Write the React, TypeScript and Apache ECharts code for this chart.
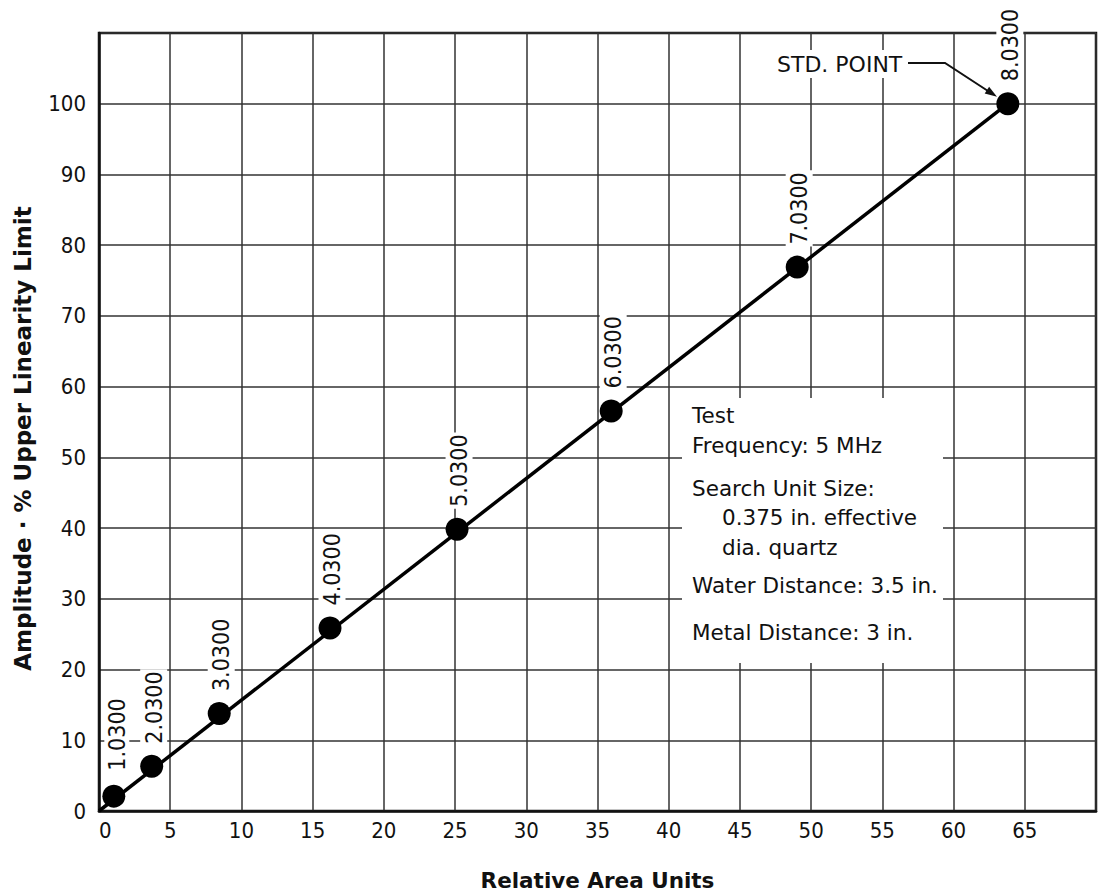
import React, { useEffect, useRef } from "react";
import * as echarts from "echarts";

const blockLabels = ["1.0300", "2.0300", "3.0300", "4.0300", "5.0300", "6.0300", "7.0300", "8.0300"];
const areaUnits = [1.04, 3.7, 8.44, 16.22, 25.14, 35.96, 49.02, 63.81];
const amplitude = [2.1, 6.33, 13.78, 25.87, 39.83, 56.56, 76.9, 100];
const fitLineX = [0, 63.81];
const fitLineY = [0, 100];
const xTickStep = 5;
const yTickStep = 10;
const xMax = 70;
const yMax = 110;

const noteLines = [
  { text: "Test", indent: false, y: 415 },
  { text: "Frequency: 5 MHz", indent: false, y: 445 },
  { text: "Search Unit Size:", indent: false, y: 488 },
  { text: "0.375 in. effective", indent: true, y: 517 },
  { text: "dia. quartz", indent: true, y: 547 },
  { text: "Water Distance: 3.5 in.", indent: false, y: 585 },
  { text: "Metal Distance: 3 in.", indent: false, y: 632 },
];

const FONT = "'DejaVu Sans Condensed', 'DejaVu Sans', sans-serif";
const FONT_WIDE = "'DejaVu Sans', sans-serif";

export default function App() {
  const ref = useRef<HTMLDivElement>(null);
  useEffect(() => {
    if (!ref.current) return;
    const chart = echarts.init(ref.current, null, { renderer: "svg" });
    const points = areaUnits.map((x, i) => {
      const item: any = { value: [x, amplitude[i]], name: blockLabels[i] };
      if (i === 0) item.label = { offset: [3, 3], padding: [0, 2, 2, 2] };
      return item;
    });
    const fit = fitLineX.map((x, i) => [x, fitLineY[i]]);
    const textColor = "#111";
    chart.setOption({
      animation: false,
      backgroundColor: "#fff",
      grid: {
        left: 99,
        right: 2,
        top: 33,
        bottom: 82,
        show: true,
        borderColor: "#111",
        borderWidth: 2.5,
        backgroundColor: "transparent",
      },
      xAxis: {
        type: "value",
        min: 0,
        max: xMax,
        interval: xTickStep,
        name: "Relative Area Units",
        nameLocation: "middle",
        nameGap: 58,
        nameTextStyle: { fontFamily: FONT_WIDE, fontSize: 21.5, fontWeight: "bold", color: textColor },
        axisLine: { show: true, lineStyle: { color: "#111", width: 2.5 } },
        axisTick: { show: false },
        axisLabel: {
          fontFamily: FONT,
          fontSize: 22,
          color: textColor,
          margin: 8,
          showMaxLabel: false,
          alignMinLabel: "left",
        },
        splitLine: { show: true, lineStyle: { color: "#333", width: 1.5 } },
      },
      yAxis: {
        type: "value",
        min: 0,
        max: yMax,
        interval: yTickStep,
        name: "Amplitude · % Upper Linearity Limit",
        nameLocation: "middle",
        nameGap: 65,
        nameTextStyle: {
          fontFamily: FONT_WIDE,
          fontSize: 23,
          fontWeight: "bold",
          color: textColor,
          padding: [0, 33, 0, 0],
        },
        axisLine: { show: true, lineStyle: { color: "#111", width: 2.5 } },
        axisTick: { show: false },
        axisLabel: {
          fontFamily: FONT,
          fontSize: 22,
          color: textColor,
          margin: 13,
          showMaxLabel: false,
        },
        splitLine: { show: true, lineStyle: { color: "#333", width: 1.5 } },
      },
      series: [
        {
          type: "line",
          data: fit,
          symbol: "none",
          lineStyle: { color: "#000", width: 3.5 },
          z: 2,
          silent: true,
        },
        {
          type: "scatter",
          data: points,
          symbol: "circle",
          symbolSize: 23,
          itemStyle: { color: "#000", opacity: 1 },
          emphasis: { disabled: true },
          z: 3,
          label: {
            show: true,
            formatter: (p: any) => p.name,
            position: "top",
            distance: 9,
            rotate: 90,
            align: "left",
            verticalAlign: "middle",
            offset: [0, 2],
            fontFamily: FONT,
            fontSize: 23,
            color: textColor,
            opacity: 1,
            backgroundColor: "#fff",
            padding: [2, 2, 2, 2],
          },
        },
      ],
      graphic: [
        {
          type: "rect",
          shape: { x: 682, y: 398, width: 261, height: 265 },
          style: { fill: "#fff" },
          z: 10,
        },
        ...noteLines.map((l) => ({
          type: "text",
          x: l.indent ? 722 : 692,
          y: l.y,
          z: 11,
          style: {
            text: l.text,
            fontFamily: FONT_WIDE,
            fontSize: 21.5,
            fill: textColor,
            textVerticalAlign: "middle",
          },
        })),
        {
          type: "rect",
          shape: { x: 772, y: 50, width: 136, height: 28 },
          style: { fill: "#fff" },
          z: 10,
        },
        {
          type: "text",
          x: 777,
          y: 64,
          z: 11,
          style: {
            text: "STD. POINT",
            fontFamily: FONT_WIDE,
            fontSize: 22,
            fill: textColor,
            textVerticalAlign: "middle",
          },
        },
        {
          type: "polyline",
          shape: { points: [[908, 63], [945, 63], [988, 91]] },
          style: { stroke: "#111", lineWidth: 2, fill: null },
          z: 11,
        },
        {
          type: "polygon",
          shape: { points: [[997, 96.7], [984.7, 93.6], [989.1, 86.8]] },
          style: { fill: "#111" },
          z: 11,
        },
      ],
    });
    return () => chart.dispose();
  }, []);
  return (
    <div
      ref={ref}
      style={{ position: "absolute", left: 0, top: 0, width: 1098, height: 896 }}
    />
  );
}
